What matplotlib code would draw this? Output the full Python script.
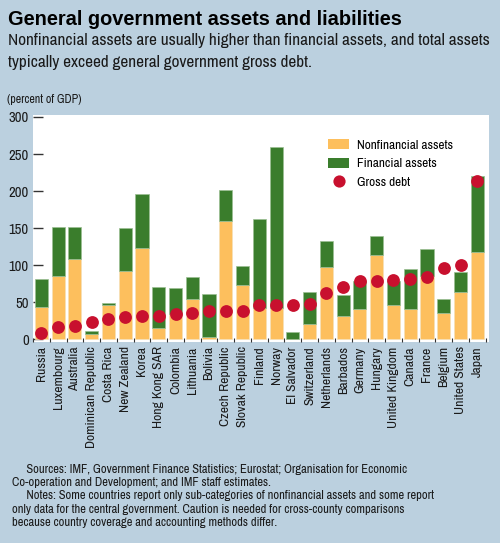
import matplotlib
matplotlib.use("Agg")
import matplotlib.pyplot as plt
import numpy as np
from matplotlib.patches import Patch
from matplotlib.lines import Line2D

countries = ["Russia", "Luxembourg", "Australia", "Dominican Republic", "Costa Rica",
             "New Zealand", "Korea", "Hong Kong SAR", "Colombia", "Lithuania", "Bolivia",
             "Czech Republic", "Slovak Republic", "Finland", "Norway", "El Salvador",
             "Switzerland", "Netherlands", "Barbados", "Germany", "Hungary",
             "United Kingdom", "Canada", "France", "Belgium", "United States", "Japan"]
nonfinancial = [44, 86, 108, 8, 47, 92, 124, 16, 35, 55, 3, 160, 73, 43, 42, 1,
                21, 98, 31, 41, 114, 47, 41, 85, 36, 64, 118]
total_assets = [81, 151, 152, 12, 49, 150, 196, 71, 69, 84, 61, 202, 99, 163, 260, 10,
                64, 133, 60, 79, 140, 79, 95, 122, 54, 91, 221]
gross_debt = [9, 17, 18, 23, 27, 30, 31, 31, 35, 36, 38, 38, 39, 47, 47, 47,
              48, 63, 71, 79, 79, 80, 81, 84, 96, 101, 214]
yticks = [0, 50, 100, 150, 200, 250, 300]

financial = [t - n for t, n in zip(total_assets, nonfinancial)]

BG = "#bbd0df"
ORANGE = "#fdbf5d"
GREEN = "#3a7d2c"
RED = "#c8102e"
TXT = "#1a1a1a"

NARROW = ["Archivo Narrow", "Liberation Sans Narrow", "DejaVu Sans"]
BOLD = ["Liberation Sans", "DejaVu Sans"]
plt.rcParams['font.family'] = NARROW

fig = plt.figure(figsize=(5.0, 5.43), dpi=100, facecolor=BG)
ax = fig.add_axes([0.066, 0.370, 0.912, 0.418])
ax.set_facecolor("white")

x = np.arange(len(countries))
ax.bar(x, nonfinancial, width=0.78, color=ORANGE, edgecolor="#f5e0b8", linewidth=0.5, zorder=2)
ax.bar(x, financial, bottom=nonfinancial, width=0.78, color=GREEN, edgecolor="#9bbf93",
       linewidth=0.5, zorder=2)
ax.scatter(x, gross_debt, s=85, color=RED, zorder=3, linewidths=0)

ax.set_xlim(-0.5, 26.7)
ax.set_ylim(-3.5, 302.5)
ax.set_yticks(yticks)
ax.set_yticklabels([str(v) for v in yticks], fontsize=10.5, color=TXT)
ax.tick_params(axis="y", direction="in", length=7, width=1, color="#333333", pad=3)
ax.set_xticks(x)
ax.set_xticklabels(countries, rotation=90, fontsize=9.8, color=TXT)
ax.tick_params(axis="x", length=0, pad=3)
ax.set_xticks(np.arange(-0.5, 27, 1), minor=True)
ax.tick_params(axis="x", which="minor", direction="in", length=3, width=0.8, color="#333333")
for s in ax.spines.values():
    s.set_visible(False)

handles = [Patch(facecolor=ORANGE, edgecolor="none"),
           Patch(facecolor=GREEN, edgecolor="none"),
           Line2D([], [], marker="o", linestyle="none", markersize=8.8,
                  markerfacecolor=RED, markeredgewidth=0)]
ax.legend(handles, ["Nonfinancial assets", "Financial assets", "Gross debt"],
          loc="upper left", bbox_to_anchor=(0.647, 0.895), frameon=False,
          fontsize=9.6, handlelength=1.6, handleheight=0.78, labelspacing=0.52,
          handletextpad=0.58, borderaxespad=0, borderpad=0)

fig.text(0.016, 0.964, "General government assets and liabilities", fontsize=14.4,
         fontweight="bold", family=BOLD, color="black", va="center")
fig.text(0.016, 0.926, "Nonfinancial assets are usually higher than financial assets, and total assets",
         fontsize=12.4, color=TXT, va="center")
fig.text(0.016, 0.884, "typically exceed general government gross debt.",
         fontsize=12.4, color=TXT, va="center")
fig.text(0.014, 0.816, "(percent of GDP)", fontsize=8.6, color=TXT, va="center")

foot = ("     Sources: IMF, Government Finance Statistics; Eurostat; Organisation for Economic\n"
        "Co-operation and Development; and IMF staff estimates.\n"
        "     Notes: Some countries report only sub-categories of nonfinancial assets and some report\n"
        "only data for the central government. Caution is needed for cross-county comparisons\n"
        "because country coverage and accounting methods differ.")
fig.text(0.024, 0.0866, foot, fontsize=9, color=TXT, va="center", linespacing=1.24)

fig.savefig("out.png", dpi=100, facecolor=BG)
